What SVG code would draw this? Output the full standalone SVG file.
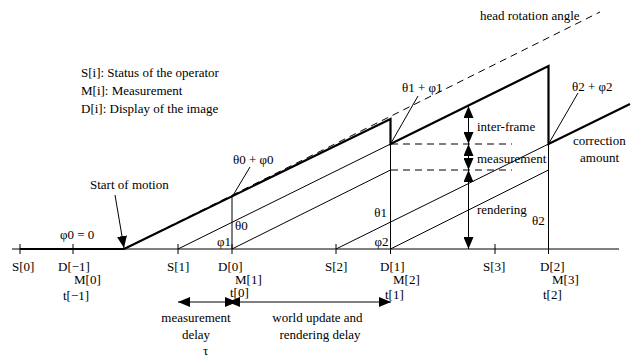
<svg xmlns="http://www.w3.org/2000/svg" width="632" height="358" viewBox="0 0 632 358">
<defs>
<marker id="ah" viewBox="0 0 12 10" refX="12" refY="5" markerWidth="12" markerHeight="10" markerUnits="userSpaceOnUse" orient="auto-start-reverse">
<path d="M0,0 L12,5 L0,10 z" fill="#000"/>
</marker>
<style>
text{font-family:"Liberation Serif","Times New Roman",serif;font-size:13px;fill:#000}
.thin{stroke:#000;stroke-width:1;fill:none}
.thick{stroke:#000;stroke-width:2.2;fill:none}
.dash{stroke:#000;stroke-width:1;fill:none;stroke-dasharray:7,5}
.arr{stroke:#000;stroke-width:1;fill:none;marker-start:url(#ah);marker-end:url(#ah)}
.mid{text-anchor:middle}
.end{text-anchor:end}
</style>
</defs>
<rect width="632" height="358" fill="#fff"/>

<g id="legend">
<text x="81" y="76.5">S[i]: Status of the operator</text>
<text x="81" y="94.5">M[i]: Measurement</text>
<text x="81" y="112.5">D[i]: Display of the image</text>
</g>

<g id="axis">
<line class="thin" x1="12" y1="249" x2="619" y2="249"/>
<line class="thick" x1="20" y1="249" x2="124" y2="249"/>
<g class="thin">
<line x1="20" y1="244" x2="20" y2="254"/>
<line x1="73" y1="244" x2="73" y2="254"/>
<line x1="178" y1="244" x2="178" y2="254"/>
<line x1="232" y1="244" x2="232" y2="254"/>
<line x1="336" y1="244" x2="336" y2="254"/>
<line x1="390.5" y1="244" x2="390.5" y2="254"/>
<line x1="495" y1="244" x2="495" y2="254"/>
<line x1="548.5" y1="244" x2="548.5" y2="254"/>
</g>
</g>

<g id="labels-time">
<text x="12" y="271">S[0]</text>
<text x="58" y="271">D[−1]</text>
<text x="74" y="284">M[0]</text>
<text x="63" y="299.5">t[−1]</text>
<text x="167" y="271">S[1]</text>
<text x="218" y="271">D[0]</text>
<text x="235" y="284">M[1]</text>
<text x="230" y="297">t[0]</text>
<text x="325" y="271">S[2]</text>
<text x="380" y="271">D[1]</text>
<text x="393" y="284">M[2]</text>
<text x="385" y="299">t[1]</text>
<text x="483" y="271">S[3]</text>
<text x="540" y="271">D[2]</text>
<text x="552" y="284">M[3]</text>
<text x="543" y="299">t[2]</text>
</g>

<g id="head-rotation">
<line class="dash" x1="124" y1="249" x2="600" y2="12"/>
<text x="480" y="20">head rotation angle</text>
</g>

<g id="display-angle">
<polyline class="thick" points="124,249 390.5,119 390.5,144 548.5,66 548.5,144 630,104"/>
</g>

<g id="connectors">
<line class="thin" x1="232" y1="197" x2="232" y2="249"/>
<line class="thin" x1="390.5" y1="144" x2="390.5" y2="249"/>
<line class="thin" x1="548.5" y1="144" x2="548.5" y2="249"/>
<line class="thin" x1="178" y1="249" x2="390.5" y2="144"/>
<line class="thin" x1="232" y1="249" x2="390.5" y2="170"/>
<line class="thin" x1="336" y1="249" x2="548.5" y2="144"/>
<line class="thin" x1="390.5" y1="249" x2="548.5" y2="170"/>
<line class="dash" x1="391" y1="144" x2="512" y2="144"/>
<line class="dash" x1="391" y1="170" x2="512" y2="170"/>
<line class="thin" x1="232" y1="197" x2="250" y2="167"/>
<line class="thin" x1="390.5" y1="144" x2="418" y2="96"/>
<line class="thin" x1="548.5" y1="144" x2="578" y2="93"/>
<line class="thin" x1="115" y1="195" x2="124" y2="248" marker-end="url(#ah)"/>
<line class="arr" x1="468.5" y1="106" x2="468.5" y2="144"/>
<line class="arr" x1="468.5" y1="144" x2="468.5" y2="170"/>
<line class="arr" x1="468.5" y1="170" x2="468.5" y2="249"/>
<line class="arr" x1="178" y1="302" x2="237" y2="302"/>
<line class="arr" x1="228" y1="302" x2="391" y2="302"/>
</g>

<g id="angle-labels">
<text x="233" y="164">θ0 + φ0</text>
<text x="402" y="92">θ1 + φ1</text>
<text x="572" y="91">θ2 + φ2</text>
<text x="90" y="189">Start of motion</text>
<text x="60" y="238.5">φ0 = 0</text>
<text x="235" y="230">θ0</text>
<text class="end" x="231" y="245.5">φ1</text>
<text class="end" x="388.5" y="246">φ2</text>
<text class="end" x="387" y="216.5">θ1</text>
<text x="532" y="225">θ2</text>
<text x="477" y="131">inter-frame</text>
<text x="477" y="163">measurement</text>
<text x="477" y="214">rendering</text>
<text x="573" y="145">correction</text>
<text x="580" y="162">amount</text>
</g>

<g id="delay-labels">
<text class="mid" x="196" y="322">measurement</text>
<text class="mid" x="196" y="339">delay</text>
<text class="mid" x="205.5" y="354.5">τ</text>
<text class="mid" x="317.5" y="322">world update and</text>
<text class="mid" x="320" y="339">rendering delay</text>
</g>
</svg>
